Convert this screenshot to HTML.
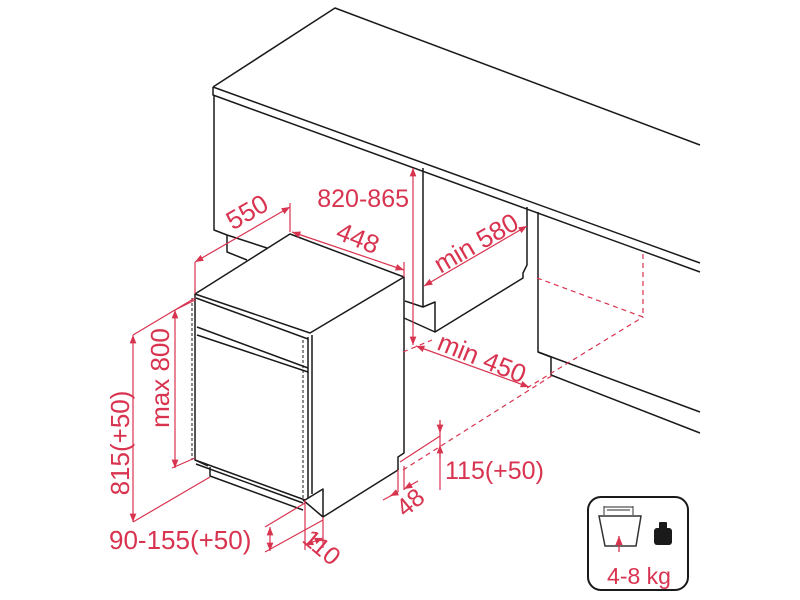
<!DOCTYPE html>
<html><head><meta charset="utf-8"><style>
html,body{margin:0;padding:0;background:#fff}
svg{display:block}
text{font-family:"Liberation Sans",sans-serif;fill:#d8334f}
</style></head><body>
<svg width="800" height="600" viewBox="0 0 800 600" xmlns="http://www.w3.org/2000/svg">
<defs>
<marker id="a" viewBox="0 0 10 10" refX="10" refY="5" markerWidth="7" markerHeight="7" orient="auto-start-reverse"><path d="M0,1 L10,5 L0,9 z" fill="#d8334f"/></marker>
</defs>
<g fill="none" stroke="#1a1a1a" stroke-width="1.5" stroke-linejoin="round">
<path d="M213,87 L335,8 L700,145"/>
<path d="M213,87 L700,263"/>
<path d="M213,87 L213,95 L700,272"/>
<path d="M214,95 L214,230 L227,235 L267,248"/>
<path d="M227,235 L227,252 L247,260"/>
<path d="M423,168 L423,307 L405,301"/>
<path d="M423,307 L435,302 L435,332 L523,278 L523,273 L527,265 L527,207"/>
<path d="M404,318 L435,332"/>
<path d="M538,212 L538,352 L700,412"/>
<path d="M538,352 L551,357 L551,375 L700,433"/>
<path d="M195,294 L290,234 L404,277 L310,333 Z"/>
<path d="M196,298 L308,339"/>
<path d="M195,294 L195,460 L208,466"/>
<path d="M197,327 L308,368"/>
<path d="M197,335 L308,372"/>
<path d="M308,337 L308,498"/>
<path d="M312,335 L312,494"/>
<path d="M404,277 L404,453 L398,457 L398,470 L323,517 L323,489 L305,500"/>
<path d="M303,500 L323,517"/>
<path d="M195,460 L305,500"/>
<path d="M196,464 L303,503"/>
<path d="M210,467 L210,476 L303,510"/>
</g>
<path d="M192,298 L192,460" stroke="#1a1a1a" stroke-width="1" stroke-dasharray="3,2" fill="none"/>
<path d="M303,340 L303,498" stroke="#1a1a1a" stroke-width="1" stroke-dasharray="3,2" fill="none"/>
<g fill="none" stroke="#d8334f" stroke-width="1.2">
<path d="M195,262 L195,294 M290,203 L290,232 M404,262 L404,277"/>
<path d="M133,335 L195,298 M172,468 L195,458 M133,522 L210,477 M175,310 L195,300"/>
<path d="M265,527 L305,503 M265,552 L323,520 M305,500 L305,550 M323,517 L323,548"/>
<path d="M398,470 L398,492 M404,466 L404,490 M400,462 L440,436"/>
<path d="M440,420 L440,490"/>
<path d="M195,262 L290,207" marker-start="url(#a)" marker-end="url(#a)"/>
<path d="M292,232 L404,270" marker-start="url(#a)" marker-end="url(#a)"/>
<path d="M413,168 L413,345" marker-start="url(#a)" marker-end="url(#a)"/>
<path d="M424,286 L527,226" marker-start="url(#a)" marker-end="url(#a)"/>
<path d="M416,346 L529,387" marker-start="url(#a)" marker-end="url(#a)"/>
<path d="M175,310 L175,468" marker-start="url(#a)" marker-end="url(#a)"/>
<path d="M133,335 L133,522" marker-start="url(#a)" marker-end="url(#a)"/>
<path d="M270,527 L270,551" marker-start="url(#a)" marker-end="url(#a)"/>
<path d="M305,545 L323,538" marker-start="url(#a)" marker-end="url(#a)"/>
<path d="M383,500 L398,492 M404,489 L418,481"/>
<path d="M398,492 L390,496" marker-end="url(#a)"/>
<path d="M404,489 L411,485" marker-start="url(#a)"/>
<path d="M440,420 L440,433" marker-end="url(#a)"/>
<path d="M440,458 L440,445" marker-end="url(#a)"/>
</g>
<g fill="none" stroke="#d8334f" stroke-width="1.2" stroke-dasharray="5,4">
<path d="M403,352 L432,340"/>
<path d="M537,278 L643,317 L643,250"/>
<path d="M527,388 L643,317"/>
<path d="M403,470 L553,375"/>
</g>
<text x="247" y="221" font-size="26" text-anchor="middle" transform="rotate(-30 247 212)">550</text>
<text x="358" y="247" font-size="26" text-anchor="middle" transform="rotate(22 358 238)">448</text>
<text x="409" y="207" font-size="25" text-anchor="end">820-865</text>
<text x="476" y="252" font-size="26" text-anchor="middle" transform="rotate(-30 476 243)">min 580</text>
<text x="482" y="367" font-size="26" text-anchor="middle" transform="rotate(22 482 358)">min 450</text>
<text x="445" y="479" font-size="25">115(+50)</text>
<text x="410" y="511" font-size="25" text-anchor="middle" transform="rotate(-40 410 502)">48</text>
<text x="322" y="556" font-size="25" text-anchor="middle" transform="rotate(40 322 547)">110</text>
<text x="109" y="549" font-size="26">90-155(+50)</text>
<text x="120" y="452" font-size="26" text-anchor="middle" transform="rotate(-90 120 443)">815(+50)</text>
<text x="160" y="387" font-size="26" text-anchor="middle" transform="rotate(-90 160 378)">max 800</text>
<rect x="588" y="497" width="100" height="93" rx="13" fill="none" stroke="#1a1a1a" stroke-width="2"/>
<path d="M604,506 L604,515 M633,506 L633,515 M604,507 L633,507 M607,510 L630,510" stroke="#555" stroke-width="1.2" fill="none"/>
<path d="M599,516 L641,516 L636,546 L605,546 Z" fill="none" stroke="#333" stroke-width="1.5"/>
<path d="M619,552 L619,536" stroke="#d8334f" stroke-width="1.3" marker-end="url(#a)"/>
<rect x="654" y="528" width="18" height="17" rx="3" fill="#1a1a1a"/>
<rect x="659" y="522" width="8" height="7" rx="1" fill="#1a1a1a"/>
<text x="639" y="584" font-size="23" text-anchor="middle">4-8 kg</text>
</svg>
</body></html>
